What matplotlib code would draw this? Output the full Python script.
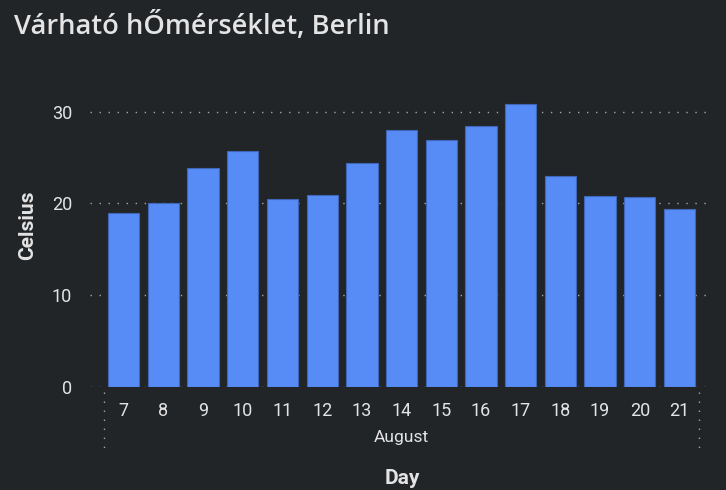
import matplotlib
matplotlib.use("Agg")
import matplotlib.pyplot as plt
import numpy as np

days = [7, 8, 9, 10, 11, 12, 13, 14, 15, 16, 17, 18, 19, 20, 21]
temps = [19.0, 20.0, 23.9, 25.7, 20.5, 20.9, 24.4, 28.0, 26.9, 28.4, 30.8, 23.0, 20.8, 20.7, 19.4]
month = "August"
yticks = [0, 10, 20, 30]

bg = "#222528"
bar_col = "#578cf6"
txt = "#e4e4e4"
grid_col = "#a4a6a8"

plt.rcParams['font.family'] = ['Roboto', 'DejaVu Sans']

fig = plt.figure(figsize=(7.26, 4.9), dpi=100, facecolor=bg)
ax = fig.add_axes([90/726, 103/490, 622/726, 303/490], facecolor=bg)

x = np.arange(len(days))
ax.bar(x, temps, width=0.79, color=bar_col, edgecolor="#3f66b8", linewidth=0.8, zorder=3)

ax.set_ylim(0, 33)
ax.set_xlim(-0.85, len(days) - 1 + 0.82)
ax.set_yticks(yticks)
ax.set_xticks(x)
ax.set_xticklabels([str(d) for d in days])

for s in ax.spines.values():
    s.set_visible(False)
ax.tick_params(axis='both', length=0, colors=txt, labelsize=13)
ax.tick_params(axis='y', pad=13)
ax.tick_params(axis='x', pad=11)

for v in yticks:
    ax.axhline(v, color=grid_col, lw=1.0, ls=(0, (1, 5.5)), zorder=1)

# group bracket for the month
trans = ax.get_xaxis_transform()
for xe in [-0.5, len(days) - 0.5]:
    ax.plot([xe, xe], [-0.017, -0.225], transform=trans, color=grid_col,
            lw=1.0, ls=(0, (1, 5.5)), clip_on=False)
ax.text((len(days) - 1) / 2, -0.168, month, transform=trans, ha='center', va='center',
        color=txt, fontsize=12.5)

fig.text(402/726, 1 - 478/490, "Day", ha='center', va='center', color=txt,
         fontsize=15, fontweight='bold')
fig.text(28/726, 1 - 225/490, "Celsius", ha='center', va='center', rotation=90,
         color=txt, fontsize=15, fontweight='bold')
fig.text(14/726, 1 - 27/490, "Várható hŐmérséklet, Berlin", ha='left', va='center',
         color=txt, fontsize=19.6, fontweight='semibold', family=['Open Sans', 'DejaVu Sans'])

fig.savefig("out.png", dpi=100, facecolor=bg)
